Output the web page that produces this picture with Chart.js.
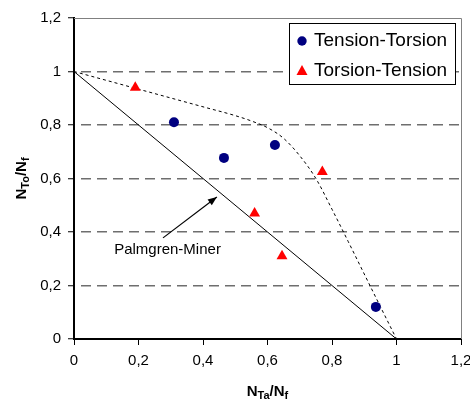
<!DOCTYPE html>
<html>
<head>
<meta charset="utf-8">
<script src="https://cdn.jsdelivr.net/npm/chart.js@4/dist/chart.umd.min.js"></script>
<style>
html,body{margin:0;padding:0;background:#fff;}
#wrap{width:470px;height:401px;position:relative;}
</style>
</head>
<body>
<div id="wrap"><canvas id="c" width="470" height="401"></canvas></div>
<script>
// ---- data ----
const xTickLabels = ['0','0,2','0,4','0,6','0,8','1','1,2'];
const yTickLabels = ['0','0,2','0,4','0,6','0,8','1','1,2'];

const tensionTorsionX = [0.31, 0.465, 0.623, 0.936];
const tensionTorsionY = [0.81, 0.677, 0.725, 0.12];

const torsionTensionX = [0.19, 0.56, 0.645, 0.77];
const torsionTensionY = [0.94, 0.47, 0.31, 0.625];

const minerX = [0, 1];
const minerY = [1, 0];

const curveX = [0, 0.1, 0.2, 0.3, 0.4, 0.5, 0.55, 0.6, 0.65, 0.7, 0.75, 0.8, 0.85, 0.9, 0.95, 1];
const curveY = [1, 0.967, 0.934, 0.901, 0.868, 0.835, 0.815, 0.79, 0.75, 0.685, 0.6, 0.485, 0.365, 0.243, 0.121, 0];

const arrowX = [0.276, 0.443];
const arrowY = [0.378, 0.531];

const annotationText = 'Palmgren-Miner';
const annotationX = 0.29;
const annotationY = 0.333;

const seriesLabels = ['Tension-Torsion', 'Torsion-Tension'];
const xTitleMain = ['N', 'Ta', '/N', 'f'];
const yTitleMain = ['N', 'To', '/N', 'f'];

const pts = (xs, ys) => xs.map((x, i) => ({x: x, y: ys[i]}));
const FONT = "'Liberation Sans', Arial, sans-serif";

const framePlugin = {
  id: 'frame',
  beforeDatasetsDraw(chart) {
    const {ctx, chartArea: a} = chart;
    ctx.save();
    ctx.strokeStyle = '#808080';
    ctx.lineWidth = 1;
    ctx.beginPath();
    ctx.moveTo(a.left, a.top + 0.5);
    ctx.lineTo(a.right + 0.5, a.top + 0.5);
    ctx.lineTo(a.right + 0.5, a.bottom);
    ctx.stroke();
    ctx.restore();
  }
};

const extrasPlugin = {
  id: 'extras',
  afterDatasetsDraw(chart) {
    const {ctx, scales} = chart;
    const xs = scales.x, ys = scales.y;
    // arrowhead
    const x1 = xs.getPixelForValue(arrowX[0]), y1 = ys.getPixelForValue(arrowY[0]);
    const x2 = xs.getPixelForValue(arrowX[1]), y2 = ys.getPixelForValue(arrowY[1]);
    const ang = Math.atan2(y2 - y1, x2 - x1);
    const L = 9, W = 3.5;
    ctx.save();
    ctx.fillStyle = '#000';
    ctx.beginPath();
    ctx.moveTo(x2, y2);
    ctx.lineTo(x2 - L * Math.cos(ang) + W * Math.sin(ang), y2 - L * Math.sin(ang) - W * Math.cos(ang));
    ctx.lineTo(x2 - L * Math.cos(ang) - W * Math.sin(ang), y2 - L * Math.sin(ang) + W * Math.cos(ang));
    ctx.closePath();
    ctx.fill();
    // annotation
    ctx.font = '15px ' + FONT;
    ctx.textAlign = 'center';
    ctx.textBaseline = 'middle';
    ctx.fillStyle = '#000';
    ctx.fillText(annotationText, xs.getPixelForValue(annotationX), ys.getPixelForValue(annotationY));
    ctx.restore();

    // legend
    const lx = 289, ly = 23, lw = 166, lh = 61;
    ctx.save();
    ctx.fillStyle = '#fff';
    ctx.fillRect(lx, ly, lw, lh);
    ctx.strokeStyle = '#000';
    ctx.lineWidth = 1;
    ctx.strokeRect(lx + 0.5, ly + 0.5, lw, lh);
    ctx.font = '19px ' + FONT;
    ctx.textAlign = 'left';
    ctx.textBaseline = 'middle';
    ctx.fillStyle = '#000';
    ctx.fillText(chart.data.datasets[0].label, 314, 41);
    ctx.fillText(chart.data.datasets[1].label, 314, 71);
    ctx.fillStyle = '#000080';
    ctx.beginPath();
    ctx.arc(302, 41, 4.7, 0, Math.PI * 2);
    ctx.fill();
    ctx.fillStyle = '#FF0000';
    ctx.beginPath();
    ctx.moveTo(302, 65);
    ctx.lineTo(307.5, 75);
    ctx.lineTo(296.5, 75);
    ctx.closePath();
    ctx.fill();
    ctx.restore();

    // axis titles
    drawSubTitle(ctx, xTitleMain, (chart.chartArea.left + chart.chartArea.right) / 2, 391, 0);
    drawSubTitle(ctx, yTitleMain, 21, (chart.chartArea.top + chart.chartArea.bottom) / 2, -Math.PI / 2);
  }
};

function drawSubTitle(ctx, parts, cx, cy, rot) {
  const big = 'bold 15px ' + FONT, small = 'bold 11px ' + FONT;
  ctx.save();
  let w = 0;
  const widths = parts.map((p, i) => { ctx.font = (i % 2 === 0) ? big : small; const m = ctx.measureText(p).width; w += m; return m; });
  ctx.translate(cx, cy);
  ctx.rotate(rot);
  ctx.fillStyle = '#000';
  ctx.textBaseline = 'alphabetic';
  ctx.textAlign = 'left';
  let x = -w / 2;
  parts.forEach((p, i) => {
    ctx.font = (i % 2 === 0) ? big : small;
    ctx.fillText(p, x, (i % 2 === 0) ? 5 : 8);
    x += widths[i];
  });
  ctx.restore();
}

new Chart(document.getElementById('c'), {
  type: 'scatter',
  data: {
    datasets: [
      {
        label: seriesLabels[0],
        data: pts(tensionTorsionX, tensionTorsionY),
        pointStyle: 'circle',
        pointRadius: 5,
        backgroundColor: '#000080',
        borderColor: '#000080',
        borderWidth: 0,
        showLine: false,
        order: 1
      },
      {
        label: seriesLabels[1],
        data: pts(torsionTensionX, torsionTensionY),
        pointStyle: 'triangle',
        pointRadius: 6.3,
        backgroundColor: '#FF0000',
        borderColor: '#FF0000',
        borderWidth: 0,
        showLine: false,
        order: 0
      },
      {
        label: 'Miner',
        data: pts(minerX, minerY),
        showLine: true,
        borderColor: '#000',
        borderWidth: 1,
        pointRadius: 0,
        order: 3
      },
      {
        label: 'curve',
        data: pts(curveX, curveY),
        showLine: true,
        borderColor: '#000',
        borderWidth: 1,
        borderDash: [3, 3],
        pointRadius: 0,
        cubicInterpolationMode: 'monotone',
        order: 3
      },
      {
        label: 'arrow',
        data: pts(arrowX, arrowY),
        showLine: true,
        borderColor: '#000',
        borderWidth: 1.2,
        pointRadius: 0,
        order: 3
      }
    ]
  },
  options: {
    responsive: false,
    animation: false,
    events: [],
    layout: {padding: {top: 18, right: 9, left: 0, bottom: 0}},
    plugins: {legend: {display: false}, tooltip: {enabled: false}},
    scales: {
      x: {
        type: 'linear',
        min: 0, max: 1.2,
        ticks: {
          stepSize: 0.2,
          color: '#000',
          font: {family: FONT, size: 15},
          padding: 7,
          maxRotation: 0,
          autoSkip: false,
          callback: (v, i) => xTickLabels[i]
        },
        grid: {drawOnChartArea: false, drawTicks: true, tickLength: 6, tickColor: '#000', tickWidth: 1},
        border: {display: true, color: '#000', width: 2},
        afterFit: s => { s.height = 62; s.paddingLeft = 0; s.paddingRight = 0; }
      },
      y: {
        type: 'linear',
        min: 0, max: 1.2,
        ticks: {
          stepSize: 0.2,
          color: '#000',
          font: {family: FONT, size: 15},
          padding: 7,
          autoSkip: false,
          callback: (v, i) => yTickLabels[i]
        },
        grid: {
          drawOnChartArea: true,
          drawTicks: true,
          tickLength: 6,
          tickColor: '#000',
          tickWidth: 1,
          tickBorderDash: [],
          lineWidth: 1.5,
          color: ctx => (ctx.index === 0 || ctx.index === 6) ? 'rgba(0,0,0,0)' : '#6e6e6e'
        },
        border: {display: true, color: '#000', width: 2, dash: [10, 6], dashOffset: 10},
        afterFit: s => { s.width = 74; s.paddingTop = 0; s.paddingBottom = 0; }
      }
    }
  },
  plugins: [framePlugin, extrasPlugin]
});
</script>
</body>
</html>
